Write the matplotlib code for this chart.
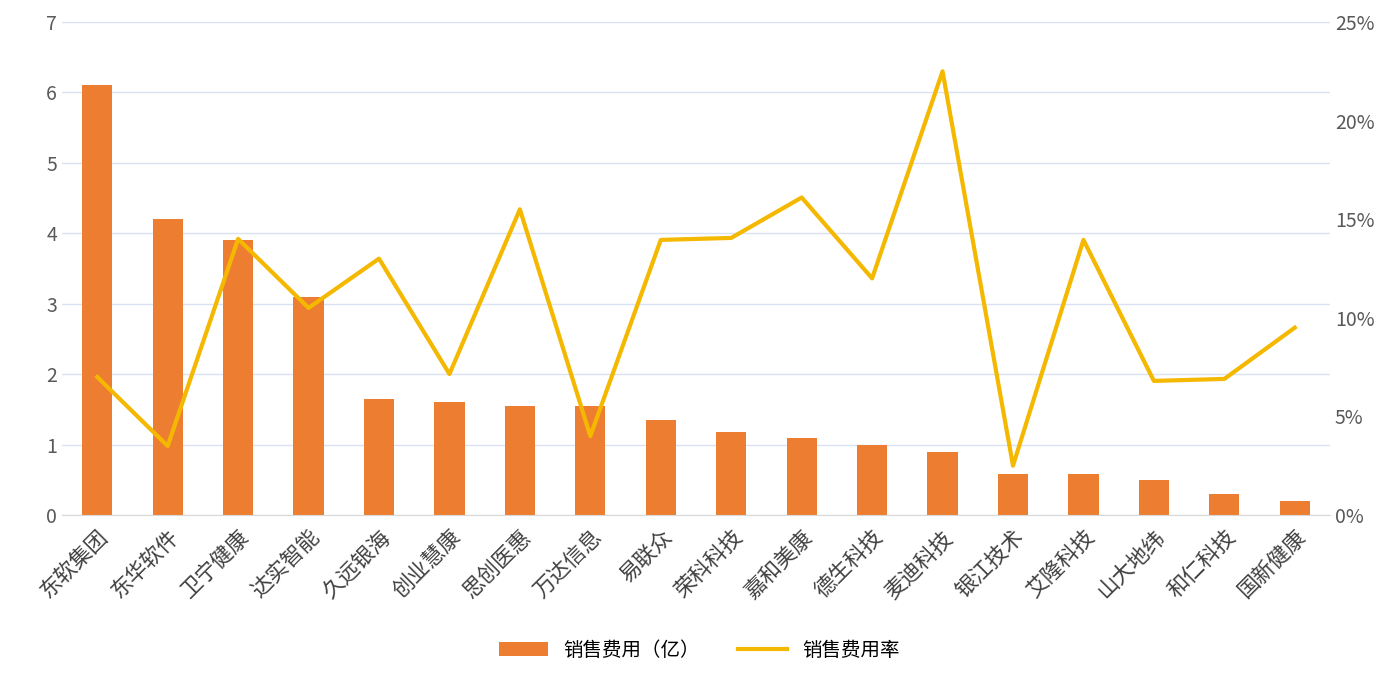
import matplotlib
matplotlib.use("Agg")
import matplotlib.pyplot as plt
from matplotlib.ticker import FuncFormatter

plt.rcParams["font.family"] = ["Noto Sans CJK SC"]

companies = ["东软集团","东华软件","卫宁健康","达实智能","久远银海","创业慧康","思创医惠","万达信息","易联众",
             "荣科科技","嘉和美康","德生科技","麦迪科技","银江技术","艾隆科技","山大地纬","和仁科技","国新健康"]
sales_expense = [6.1,4.2,3.9,3.1,1.65,1.6,1.55,1.55,1.35,1.18,1.1,1.0,0.9,0.58,0.58,0.5,0.3,0.2]
expense_rate = [7.0,3.5,14.0,10.5,13.0,7.15,15.5,4.0,13.95,14.05,16.1,12.0,22.5,2.5,13.95,6.8,6.9,9.5]

fig = plt.figure(figsize=(13.99,6.85), dpi=100)
ax = fig.add_axes([62/1399, 1-515/685, (1330-62)/1399, (515-22)/685])
x = range(len(companies))
b = ax.bar(x, sales_expense, width=0.43, color="#ED7D31", label="销售费用（亿）", zorder=2)
ax.set_ylim(0,7)
ax.set_xlim(-0.5, len(companies)-0.5)
ax.set_yticks(range(8))
ax.grid(axis="y", color="#D9E1F2", lw=1, zorder=0)
ax.set_xticks(list(x))
ax.set_xticklabels(companies, rotation=45, ha="right", rotation_mode="anchor", fontsize=15.5, color="#404040")
for s in ["top","right","left"]:
    ax.spines[s].set_visible(False)
ax.spines["bottom"].set_color("#D9D9D9")
ax.tick_params(axis="y", length=0, labelsize=14, colors="#595959")
ax.tick_params(axis="x", length=0, pad=8)

ax2 = ax.twinx()
l, = ax2.plot(x, expense_rate, color="#F5B800", lw=3, label="销售费用率", zorder=3)
ax2.set_ylim(0,25)
ax2.set_yticks([0,5,10,15,20,25])
ax2.yaxis.set_major_formatter(FuncFormatter(lambda v,p: f"{int(v)}%"))
ax2.tick_params(axis="y", length=0, labelsize=14, colors="#595959")
for s in ax2.spines.values():
    s.set_visible(False)

fig.legend([b, l], ["销售费用（亿）","销售费用率"], loc="center", bbox_to_anchor=(0.5, 1-650/685),
           ncol=2, frameon=False, fontsize=14, handlelength=2.5)
fig.savefig("out.png", dpi=100)
